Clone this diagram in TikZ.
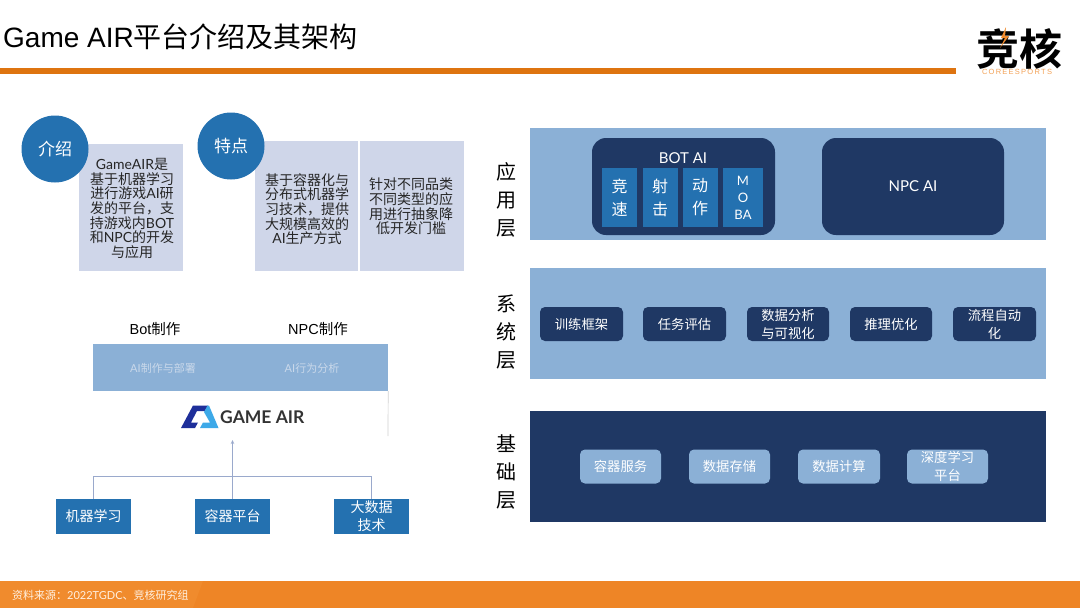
\documentclass[tikz,border=0pt]{standalone}
\usetikzlibrary{arrows.meta}
\usepackage{fontspec}
\setmainfont{Noto Sans CJK SC}
\newfontfamily\latf{Lato}
\newfontfamily\hel{Liberation Sans}
\newfontfamily\cjkbold{Noto Sans CJK SC Bold}
\newcommand{\fsz}[2]{\fontsize{#1}{#2}\selectfont}
\definecolor{blueA}{HTML}{2471B0}
\definecolor{paleB}{HTML}{CFD6E9}
\definecolor{bandC}{HTML}{8BB0D6}
\definecolor{darkD}{HTML}{1F3864}
\definecolor{orgE}{HTML}{DE7410}
\definecolor{footF}{HTML}{F08B2D}
\definecolor{footG}{HTML}{EE8526}
\definecolor{wireH}{HTML}{9AA9CC}
\definecolor{faintI}{HTML}{C9D8EA}
\definecolor{gaDark}{HTML}{1E2F9A}
\definecolor{gaLight}{HTML}{3DA9E8}
\tikzset{
 x=1pt,y=-1pt,
 txt/.style={inner sep=0pt,align=center,text depth=0pt},
 band/.style={draw=none,inner sep=0pt,anchor=north west},
 circ/.style={circle,fill=blueA,text=white,inner sep=0pt,minimum size=67pt,font=\fsz{17}{17}},
 pale/.style={fill=paleB,inner sep=0pt,align=center},
 srcbox/.style={fill=blueA,text=white,inner sep=0pt,minimum width=75pt,minimum height=35pt,align=center,font=\fsz{14}{18}},
 tile/.style={fill=blueA,text=white,inner sep=0pt,minimum height=59pt,align=center},
 btn/.style={rounded corners=5pt,inner sep=0pt,minimum height=34pt,text=white,align=center,font=\fsz{13.3}{18}},
 sysb/.style={btn,fill=darkD},
 baseb/.style={btn,fill=bandC},
 layer/.style={txt,font=\fsz{20}{28}},
 wire/.style={draw=wireH,line width=0.8pt}
}
\begin{document}
\begin{tikzpicture}
\useasboundingbox (0,0) rectangle (1080,608);
\fill[white] (0,0) rectangle (1080,608);
% header
\node[txt,anchor=base west,font=\fsz{28}{28}] (title) at (3,47) {{\hel Game AIR}平台介绍及其架构};
\fill[orgE] (0,68) rectangle (956,74);
% logo
\node[txt,anchor=center,font=\fsz{43}{43}\cjkbold] (logoa) at (1019,47) {竞核};
\fill[footF] (1006,27) -- (1001,38) -- (1005,38) -- (1000,48) -- (1009,36) -- (1005,36) -- cycle;
\node[txt,font=\fsz{7.5}{8}\hel,text=footF!80!white] (logob) at (1017,72) {C\,O\,R\,E\,E\,S\,P\,O\,R\,T\,S};
% footer
\fill[footG] (0,581) rectangle (1080,608);
\fill[footF] (0,581) -- (203,581) -- (193,608) -- (0,608) -- cycle;
\node[txt,anchor=west,text=white!88!orange,font=\fsz{11}{11}] (src) at (12,595) {资料来源：{\latf 2022TGDC}、竞核研究组};
% intro
\node[pale,minimum width=104pt,minimum height=127pt] (introbox) at (131,207.5) {};
\node[txt,font=\fsz{14}{14.7},text=black!85] (introtxt) at (132,208) {{\latf GameAIR}是\\基于机器学习\\进行游戏{\latf AI}研\\发的平台，支\\持游戏内{\latf BOT}\\和{\latf NPC}的开发\\与应用};
\node[circ] (introc) at (55,149) {介绍};
\node[pale,minimum width=103pt,minimum height=130pt] (featA) at (306.5,206) {};
\node[pale,minimum width=104pt,minimum height=130pt] (featB) at (412,206) {};
\node[txt,font=\fsz{14}{14.7},text=black!85] (featAt) at (307,208.5) {基于容器化与\\分布式机器学\\习技术，提供\\大规模高效的\\{\latf AI}生产方式};
\node[txt,font=\fsz{14}{14.7},text=black!85] (featBt) at (411,206) {针对不同品类\\不同类型的应\\用进行抽象降\\低开发门槛};
\node[circ] (featc) at (231,146) {特点};
% Game Air stack
\node[txt,font=\fsz{14.5}{15}] (botl) at (155,328) {{\hel Bot}制作};
\node[txt,font=\fsz{14.5}{15}] (npcl) at (318,328) {{\hel NPC}制作};
\node[fill=bandC,inner sep=0pt,minimum width=295pt,minimum height=47pt] (gband) at (240.5,367.5) {};
\node[txt,text=faintI,font=\fsz{11}{11}] (gbanda) at (163,368) {{\latf AI}制作与部署};
\node[txt,text=faintI,font=\fsz{11}{11}] (gbandb) at (312,368) {{\latf AI}行为分析};
\coordinate (gedge) at (388,436);
\draw[draw=black!18,line width=0.7pt] (gband.south east) -- (gedge);
\fill[gaDark] (181,428) -- (193,405.5) -- (208,405.5) -- (205,411) -- (197,411) -- (191,422.5) -- (198,422.5) -- (195,428) -- cycle;
\fill[gaLight] (204,412) -- (207.5,405.5) -- (209,405.5) -- (218.5,428) -- (200,428) -- (203,422.5) -- (210,422.5) -- cycle;
\node[txt,anchor=west,font=\fsz{17.5}{18}\bfseries\latf,text=black!80] (gname) at (220,417) {GAME AIR};
% sources
\node[srcbox] (s1) at (93.5,516.5) {机器学习};
\node[srcbox] (s2) at (232.5,516.5) {容器平台};
\node[srcbox] (s3) at (371.5,516.5) {大数据\\技术};
\coordinate (top) at (232.5,440);
\coordinate (hl) at (93.5,476);
\coordinate (hr) at (371.5,476);
\draw[wire] (s1.north) -- (hl) -- (hr) -- (s3.north);
\draw[wire,-{Stealth[length=4pt,width=3.5pt]}] (s2.north) -- (top);
% right bands
\node[band,fill=bandC,minimum width=516pt,minimum height=112pt] (app) at (530,128) {};
\node[band,fill=bandC,minimum width=516pt,minimum height=111pt] (sys) at (530,268) {};
\node[band,fill=darkD,minimum width=516pt,minimum height=111pt] (bas) at (530,411) {};
\node[layer] (la) at (506,199) {应\\用\\层};
\node[layer] (lb) at (506,331) {系\\统\\层};
\node[layer] (lc) at (506,471) {基\\础\\层};
% app
\node[fill=darkD,rounded corners=14pt,inner sep=0pt,minimum width=183pt,minimum height=97pt] (bot) at (683.5,186.5) {};
\node[fill=darkD,rounded corners=14pt,inner sep=0pt,minimum width=182pt,minimum height=97pt,text=white,font=\fsz{15}{15}\latf] (npc) at (913,186.5) {NPC AI};
\node[txt,text=white,font=\fsz{15}{15}\latf] (bott) at (683,158) {BOT AI};
\node[tile,minimum width=35pt,font=\fsz{16}{23}] (t1) at (619.5,197.5) {竞\\速};
\node[tile,minimum width=35pt,font=\fsz{16}{23}] (t2) at (660,197.5) {射\\击};
\node[tile,minimum width=35pt,font=\fsz{16}{23}] (t3) at (700,197.5) {动\\作};
\node[tile,minimum width=40pt,font=\fsz{13}{17}\latf] (t4) at (743,197.5) {M\\O\\BA};
% system
\node[sysb,minimum width=83pt] (b1) at (581.5,324) {训练框架};
\node[sysb,minimum width=83pt] (b2) at (684.5,324) {任务评估};
\node[sysb,minimum width=82pt] (b3) at (788,324) {数据分析\\与可视化};
\node[sysb,minimum width=82pt] (b4) at (891,324) {推理优化};
\node[sysb,minimum width=83pt] (b5) at (994.5,324) {流程自动\\化};
% base
\node[baseb,minimum width=81pt] (c1) at (620.5,466.5) {容器服务};
\node[baseb,minimum width=81pt] (c2) at (729.5,466.5) {数据存储};
\node[baseb,minimum width=82pt] (c3) at (839,466.5) {数据计算};
\node[baseb,minimum width=81pt] (c4) at (947.5,466.5) {深度学习\\平台};
\end{tikzpicture}
\end{document}
